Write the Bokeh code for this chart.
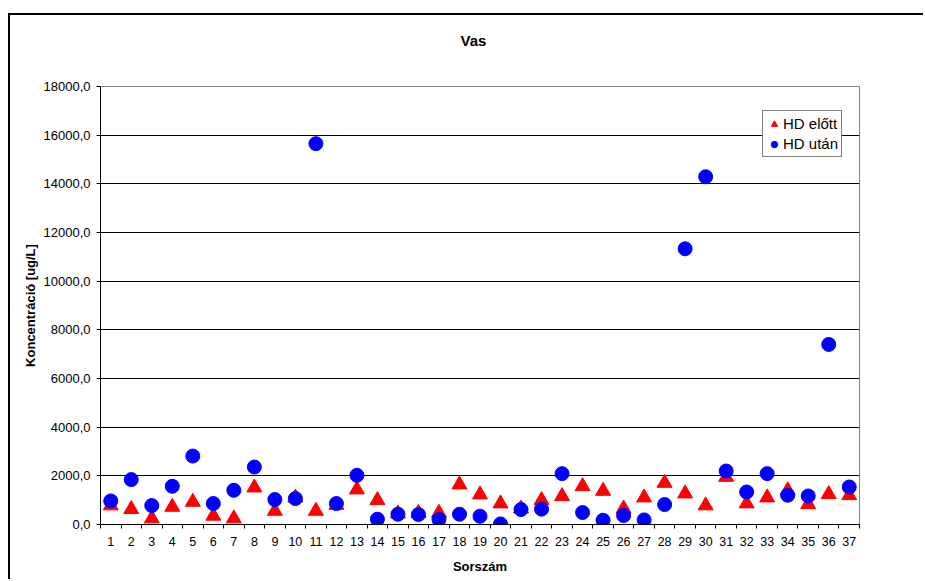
from bokeh.plotting import figure
from bokeh.models import FixedTicker, CustomJSTickFormatter, Legend, LegendItem, ColumnDataSource, Range1d, Title
from bokeh.embed import file_html
from bokeh.resources import INLINE

sorszam = [1, 2, 3, 4, 5, 6, 7, 8, 9, 10, 11, 12, 13, 14, 15, 16, 17, 18, 19,
           20, 21, 22, 23, 24, 25, 26, 27, 28, 29, 30, 31, 32, 33, 34, 35, 36, 37]
hd_elott = [780, 627, 246, 722, 927, 353, 246, 1517, 558, 1100, 558, 800, 1435,
            996, 450, 470, 476, 1640, 1230, 861, 650, 996, 1160, 1570, 1378,
            650, 1107, 1706, 1271, 779, 1952, 861, 1107, 1400, 830, 1243, 1200]
hd_utan = [968, 1845, 779, 1570, 2813, 861, 1406, 2362, 1025, 1066, 15650, 861, 2021,
           217, 422, 410, 205, 422, 340, 25, 615, 630, 2090, 492, 176,
           369, 189, 820, 11330, 14290, 2198, 1337, 2090, 1201, 1173, 7400, 1542]
y_ticks = [0, 2000, 4000, 6000, 8000, 10000, 12000, 14000, 16000, 18000]
title_text = "Vas"

FONT = "Liberation Sans"

src = ColumnDataSource(dict(x=sorszam, elott=hd_elott, utan=hd_utan))

p = figure(width=915, height=566, output_backend="svg", toolbar_location=None,
           x_range=Range1d(0.5, 37.5), y_range=Range1d(0, 18000),
           min_border_left=90, min_border_right=66, min_border_top=71, min_border_bottom=57)
p.styles = {"margin-top": "13px", "margin-left": "8px",
            "border-top": "2px solid black", "border-left": "2px solid black"}

# spacer between frame and title, then the title itself
spacer = Title(text=" ", text_font=FONT, text_font_size="13px", standoff=21)
p.add_layout(spacer, "above")
title = Title(text=title_text, text_font=FONT, text_font_size="15px", text_font_style="bold",
              text_color="black", align="left", offset=360, standoff=0)
p.add_layout(title, "above")

p.outline_line_color = "#808080"
p.outline_line_width = 1
p.background_fill_color = "white"
p.border_fill_color = "white"

p.xgrid.grid_line_color = None
p.ygrid.grid_line_color = "black"
p.ygrid.grid_line_width = 1
p.ygrid.ticker = FixedTicker(ticks=y_ticks)

# y axis
p.yaxis.ticker = FixedTicker(ticks=y_ticks)
p.yaxis.formatter = CustomJSTickFormatter(code="return tick.toFixed(1).replace('.', ',');")
p.yaxis.axis_label = "Koncentráció [ug/L]"
p.yaxis.axis_label_text_font = FONT
p.yaxis.axis_label_text_font_size = "13px"
p.yaxis.axis_label_text_font_style = "bold"
p.yaxis.axis_label_text_color = "black"
p.yaxis.axis_label_standoff = 3
p.yaxis.major_label_text_font = FONT
p.yaxis.major_label_text_font_size = "13px"
p.yaxis.major_label_text_color = "black"
p.yaxis.major_label_standoff = 6
p.yaxis.major_tick_out = 4
p.yaxis.major_tick_in = 0
p.yaxis.minor_tick_line_color = None
p.yaxis.axis_line_color = "black"
p.yaxis.major_tick_line_color = "black"

# x axis
p.xaxis.ticker = FixedTicker(ticks=sorszam, minor_ticks=[s - 0.5 for s in sorszam] + [sorszam[-1] + 0.5])
p.xaxis.major_label_overrides = {s: str(s) for s in sorszam}
p.xaxis.major_tick_line_color = None
p.xaxis.major_tick_out = 0
p.xaxis.major_tick_in = 0
p.xaxis.minor_tick_line_color = "black"
p.xaxis.minor_tick_out = 4
p.xaxis.minor_tick_in = 0
p.xaxis.major_label_text_font = FONT
p.xaxis.major_label_text_font_size = "12.5px"
p.xaxis.major_label_text_color = "black"
p.xaxis.major_label_standoff = 8
p.xaxis.axis_label = "Sorszám"
p.xaxis.axis_label_text_font = FONT
p.xaxis.axis_label_text_font_size = "13px"
p.xaxis.axis_label_text_font_style = "bold"
p.xaxis.axis_label_text_color = "black"
p.xaxis.axis_label_standoff = 10
p.xaxis.axis_line_color = "black"

r1 = p.scatter("x", "elott", source=src, marker="triangle", size=15,
               fill_color="#FF0000", line_color="#FF0000")
r2 = p.scatter("x", "utan", source=src, marker="circle", size=14,
               fill_color="#0000FF", line_color="#0000FF")

legend = Legend(items=[LegendItem(label="HD előtt", renderers=[r1]),
                       LegendItem(label="HD után", renderers=[r2])],
                location=(662, 367))
legend.label_text_font = FONT
legend.label_text_font_size = "15px"
legend.label_text_color = "black"
legend.glyph_width = 16
legend.glyph_height = 16
legend.spacing = 1
legend.padding = 3
legend.margin = 0
legend.label_standoff = 1
legend.label_height = 19
legend.border_line_color = "black"
legend.border_line_width = 1
legend.background_fill_color = "white"
legend.background_fill_alpha = 1
p.add_layout(legend)

open("out.html", "w").write(file_html(p, INLINE))
